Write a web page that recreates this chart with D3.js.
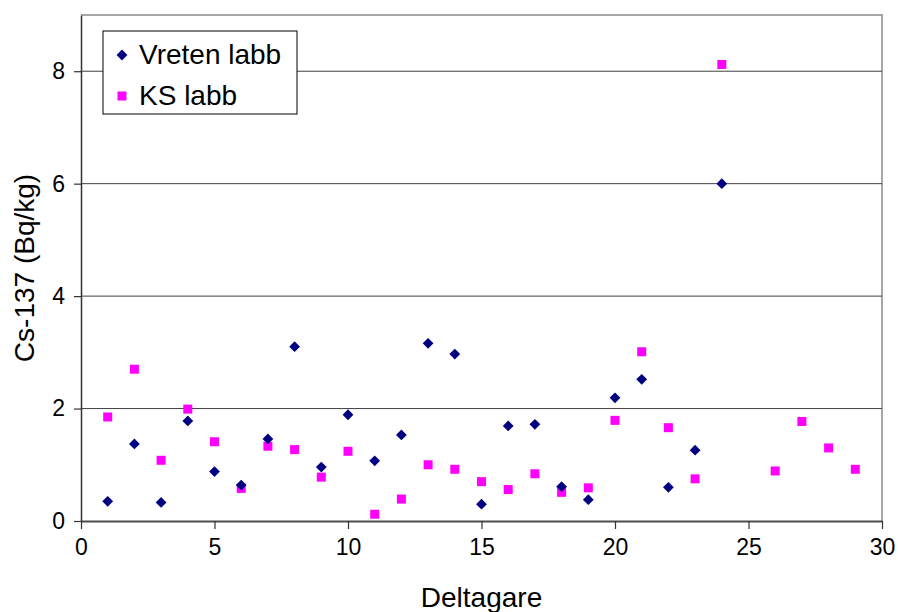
<!DOCTYPE html>
<meta charset="utf-8">
<head>
    <script src="https://d3js.org/d3.v7.min.js"></script>
    <style>
      body { margin: 0; background: #fff; }
      text { font-family: "Liberation Sans", Arial, sans-serif; fill: #000; }
    </style>
</head>
<html lang="sv">
    <body>
        <div id="chart"></div>
    </body>
</html>
<script>
    // participant numbers and measured values (Cs-137, Bq/kg)
    const vretenX = [1,2,3,4,5,6,7,8,9,10,11,12,13,14,15,16,17,18,19,20,21,22,23,24]
    const vretenY = [0.35,1.37,0.33,1.78,0.88,0.64,1.46,3.10,0.96,1.89,1.07,1.53,3.16,2.97,0.30,1.69,1.72,0.61,0.38,2.19,2.52,0.60,1.26,6.0]
    const ksX = [1,2,3,4,5,6,7,8,9,10,11,12,13,14,15,16,17,18,19,20,21,22,23,24,26,27,28,29]
    const ksY = [1.85,2.70,1.08,1.99,1.41,0.58,1.33,1.27,0.78,1.24,0.12,0.39,1.00,0.92,0.70,0.56,0.84,0.51,0.59,1.79,3.01,1.66,0.75,8.12,0.89,1.77,1.30,0.92]
    const xTicks = [0,5,10,15,20,25,30]
    const yTicks = [0,2,4,6,8]
    const seriesNames = ["Vreten labb", "KS labb"]

    const margin = {top: 15, right: 16, bottom: 91, left: 81},
      width = 898 - margin.left - margin.right,
      height = 612 - margin.top - margin.bottom;

    const svg = d3.select("#chart")
      .append("svg")
        .attr("width", 898)
        .attr("height", 612)
      .append("g")
        .attr("transform", `translate(${margin.left},${margin.top})`);

    const x = d3.scaleLinear().domain([0, 30]).range([0, width])
    const y = d3.scaleLinear().domain([0, 9]).range([height, 0])

    // plot frame (top and right)
    svg.append("path")
      .attr("d", `M0,0H${width}V${height}`)
      .style("fill", "none")
      .style("stroke", "#8c8c8c")
      .style("stroke-width", 1.5)

    // gridlines
    svg.selectAll("grid")
      .data(yTicks.filter(d => d > 0))
      .join("line")
        .attr("x1", 0).attr("x2", width)
        .attr("y1", d => y(d)).attr("y2", d => y(d))
        .style("stroke", "#404040")
        .style("stroke-width", 1)

    // axes
    const xAxis = svg.append("g")
      .attr("transform", `translate(0,${height})`)
      .call(d3.axisBottom(x).tickValues(xTicks).tickSize(8).tickPadding(10).tickSizeOuter(0))
    const yAxis = svg.append("g")
      .call(d3.axisLeft(y).tickValues(yTicks).tickSize(7).tickPadding(9).tickSizeOuter(0))

    ;[xAxis, yAxis].forEach(a => {
      a.select(".domain").style("stroke", "#333").style("stroke-width", 1.5)
      a.selectAll(".tick line").style("stroke", "#333").style("stroke-width", 1.2)
      a.selectAll(".tick text").style("font-size", "23px").style("font-family", "Liberation Sans, Arial, sans-serif").style("fill", "#000")
    })
    xAxis.select(".domain").style("stroke", "#4d4d4d").style("stroke-width", 2)

    // axis titles
    svg.append("text")
      .attr("x", width / 2)
      .attr("y", height + 86)
      .style("text-anchor", "middle")
      .style("font-size", "28px")
      .text("Deltagare")

    svg.append("text")
      .attr("transform", `translate(${-47},${height / 2}) rotate(-90)`)
      .style("text-anchor", "middle")
      .style("font-size", "28px")
      .text("Cs-137 (Bq/kg)")

    // square rotated 45 degrees gives the diamond marker
    const diamond = d3.symbol().type(d3.symbolSquare).size(58)

    // KS labb squares
    svg.selectAll("ks")
      .data(ksX.map((d, i) => [d, ksY[i]]))
      .join("rect")
        .attr("x", d => x(d[0]) - 4.5)
        .attr("y", d => y(d[1]) - 4.5)
        .attr("width", 9)
        .attr("height", 9)
        .style("fill", "#ff00ff")

    // Vreten labb diamonds
    svg.selectAll("vreten")
      .data(vretenX.map((d, i) => [d, vretenY[i]]))
      .join("path")
        .attr("d", diamond)
        .attr("transform", d => `translate(${x(d[0])},${y(d[1])}) rotate(45)`)
        .style("fill", "#000080")

    // legend
    const legend = svg.append("g").attr("transform", "translate(22,16)")
    legend.append("rect")
      .attr("width", 194)
      .attr("height", 83)
      .style("fill", "#fff")
      .style("stroke", "#000")
      .style("stroke-width", 1)
    legend.append("path")
      .attr("d", diamond)
      .attr("transform", "translate(19,24) rotate(45)")
      .style("fill", "#000080")
    legend.append("rect")
      .attr("x", 14.5).attr("y", 60.5)
      .attr("width", 9).attr("height", 9)
      .style("fill", "#ff00ff")
    legend.selectAll("ltext")
      .data(seriesNames)
      .join("text")
        .attr("x", 36)
        .attr("y", (d, i) => 33 + i * 41)
        .style("font-size", "28px")
        .text(d => d)
</script>
